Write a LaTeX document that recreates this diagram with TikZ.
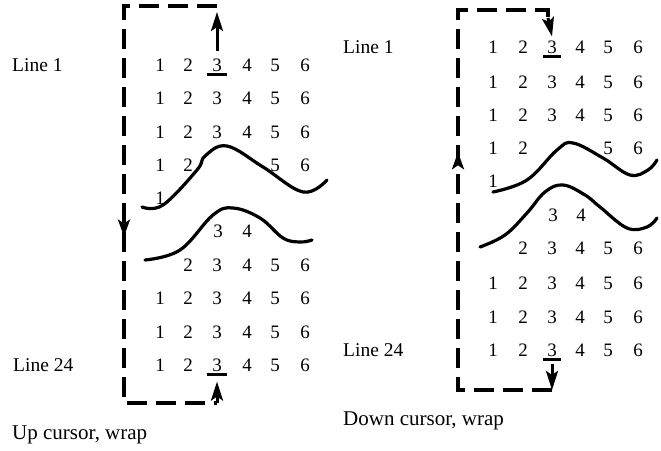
\documentclass[tikz,border=0pt]{standalone}
\usepackage{fontspec}
\setmainfont{Liberation Serif}
\usetikzlibrary{arrows.meta,decorations.markings}

\tikzset{
  digit/.style={inner sep=0pt, font=\fontsize{19}{22}\selectfont},
  label/.style={anchor=west, inner sep=0pt, font=\fontsize{19.5}{22}\selectfont},
  caption/.style={label, font=\fontsize{21}{24}\selectfont},
  wave/.style={line width=3.2pt, line cap=round},
  cursorbar/.style={line width=3pt},
  wrapline/.style={line width=3.5pt, dash pattern=on 20pt off 9pt},
  moveto/.style={line width=3pt, -{Stealth[length=19pt,width=12pt,inset=4pt]}},
  midarrow/.style={postaction={decorate}, decoration={markings,
    mark=at position #1 with {\arrow[solid]{Stealth[length=17pt,width=12pt,inset=4pt]}}}}
}

\begin{document}
\begin{tikzpicture}[x=1pt,y=-1pt]
\useasboundingbox (0,0) rectangle (661,450);

% left screen: up cursor
\foreach \r/\y in {1/65, 2/98, 3/132, 8/298, 9/332, 10/365}
  \foreach \c/\x in {1/160, 2/188, 3/217, 4/247, 5/275, 6/305}
    \node[digit] (l-\r-\c) at (\x,\y) {\c};
\foreach \c/\x in {1/160, 2/188, 5/275, 6/305}
  \node[digit] (l-4-\c) at (\x,165) {\c};
\node[digit] (l-5-1) at (160,198) {1};
\foreach \c/\x in {3/218, 4/247}
  \node[digit] (l-6-\c) at (\x,231) {\c};
\foreach \c/\x in {2/188, 3/217, 4/247, 5/275, 6/305}
  \node[digit] (l-7-\c) at (\x,265) {\c};

\node[label] (lline1) at (12,65) {Line 1};
\node[label] (lline24) at (13,365) {Line 24};
\node[caption] (lcap) at (12,435) {Up cursor, wrap};

\draw[wave] plot[smooth, tension=0.65] coordinates {(142,207) (163,205) (197,170) (205,156) (227,146) (263,167) (303,192) (327,180)};
\draw[wave] plot[smooth, tension=0.65] coordinates {(145,260) (180,250) (213,215) (233,208) (260,218) (283,238) (300,242) (312,240)};

\draw[cursorbar] ([xshift=-5pt,yshift=-3pt]l-1-3.south west) -- ([xshift=5pt,yshift=-3pt]l-1-3.south east);
\draw[cursorbar] ([xshift=-5pt,yshift=-3pt]l-10-3.south west) -- ([xshift=5pt,yshift=-3pt]l-10-3.south east);

\coordinate (ltr) at (217,6);
\coordinate (ltl) at (124,6);
\coordinate (lbl) at (124,403);
\coordinate (lbr) at (217,403);
\draw[moveto] ([yshift=7pt]l-1-3.north) -- ([yshift=-6pt]ltr);
\draw[wrapline, midarrow=0.555] (ltr) -- (ltl) -- (lbl) -- (lbr);
\draw[moveto] (lbr) -- ([yshift=-10pt]l-10-3.south);

% right screen: down cursor
\foreach \r/\y in {1/47, 2/82, 3/115, 8/283, 9/317, 10/350}
  \foreach \c/\x in {1/493, 2/523, 3/552, 4/580, 5/608, 6/638}
    \node[digit] (r-\r-\c) at (\x,\y) {\c};
\foreach \c/\x in {1/493, 2/523, 5/608, 6/638}
  \node[digit] (r-4-\c) at (\x,148) {\c};
\node[digit] (r-5-1) at (493,181) {1};
\foreach \c/\x in {3/553, 4/581}
  \node[digit] (r-6-\c) at (\x,215) {\c};
\foreach \c/\x in {2/523, 3/552, 4/580, 5/608, 6/638}
  \node[digit] (r-7-\c) at (\x,248) {\c};

\node[label] (rline1) at (343,47) {Line 1};
\node[label] (rline24) at (343,350) {Line 24};
\node[caption] (rcap) at (343,421) {Down cursor, wrap};

\draw[wave] plot[smooth, tension=0.65] coordinates {(493,192) (527,180) (557,150) (573,143) (603,158) (630,175) (648,170) (657,160)};
\draw[wave] plot[smooth, tension=0.65] coordinates {(480,247) (505,235) (527,213) (545,192) (563,185) (585,195) (600,207) (627,228) (647,227) (657,218)};

\draw[cursorbar] ([xshift=-4pt,yshift=-3pt]r-1-3.south west) -- ([xshift=4pt,yshift=-3pt]r-1-3.south east);
\draw[cursorbar] ([xshift=-4pt,yshift=-3pt]r-10-3.south west) -- ([xshift=4pt,yshift=-3pt]r-10-3.south east);

\coordinate (rbr) at (552,390);
\coordinate (rbl) at (458,390);
\coordinate (rtl) at (458,10);
\coordinate (rtr) at (548,10);
\coordinate (rdrop) at (548,18);
\draw[moveto] ([yshift=-7pt]r-10-3.south) -- (rbr);
\draw[wrapline, midarrow=0.58] (rbr) -- (rbl) -- (rtl) -- (rtr) -- (rdrop);
\draw[moveto] (rdrop) -- ([yshift=4pt]r-1-3.north);
\end{tikzpicture}
\end{document}
